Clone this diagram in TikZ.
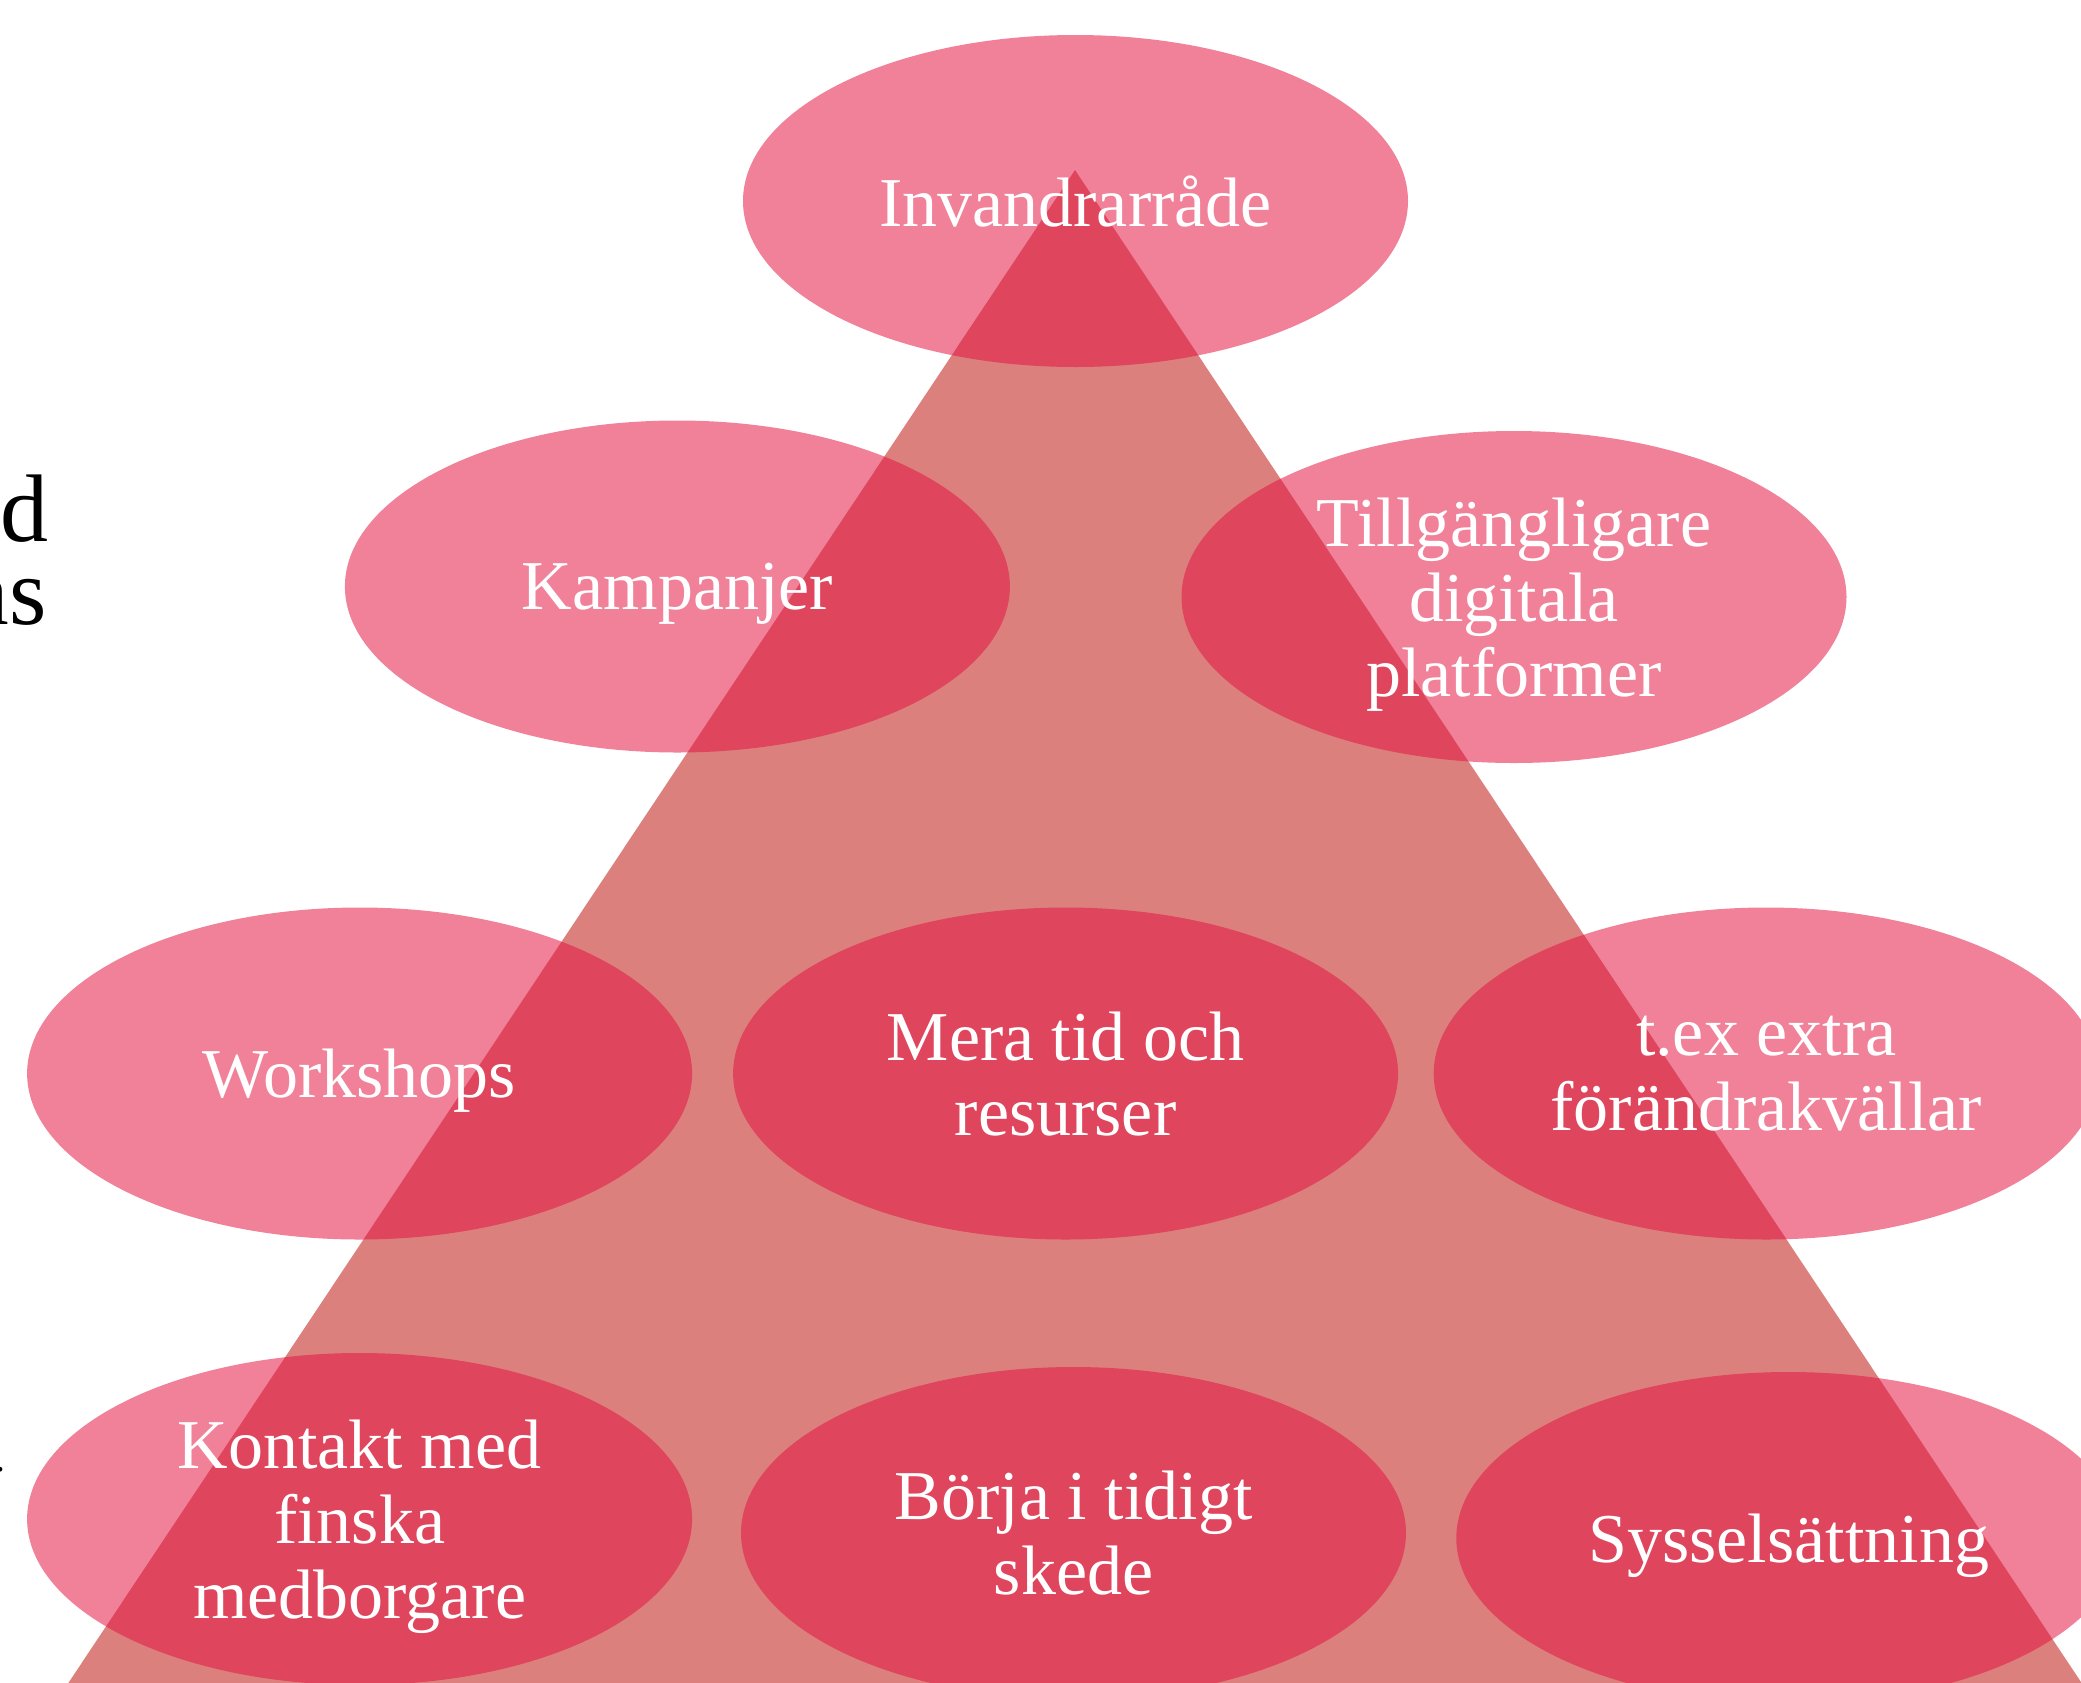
\documentclass[tikz,border=0pt]{standalone}
\usepackage{fontspec}
\setmainfont{Liberation Serif}
\usetikzlibrary{shapes.geometric}
\definecolor{tri}{RGB}{220,128,126}
\definecolor{ell}{RGB}{227,17,63}
\begin{document}
\begin{tikzpicture}[x=1pt,y=-1pt,
  bub/.style={ellipse, fill=ell, fill opacity=0.53, text opacity=1, text=white,
    minimum width=665pt, minimum height=332pt, inner sep=0pt, align=center,
    text depth=0pt, font=\fontsize{70}{75}\selectfont},
  side/.style={anchor=base east, inner sep=0pt, text=black}]
\useasboundingbox (0,0) rectangle (2081,1682);
\clip (0,0) rectangle (2081,1682);
% triangle
\coordinate (apex) at (1075,170);
\coordinate (bl) at (-9.5,1800);
\coordinate (br) at (2159.5,1800);
\fill[tri] (apex) -- (bl) -- (br) -- cycle;
% ellipses
\node[bub] (n1) at (1075.5,201) {Invandrarråde};
\node[bub] (n2) at (677.4,586.5) {Kampanjer};
\node[bub] (n3) at (1514,597) {Tillgängligare\\digitala\\platformer};
\node[bub] (n4) at (359.6,1073.5) {Workshops};
\node[bub] (n5) at (1065.6,1073.5) {Mera tid och\\resurser};
\node[bub] (n6) at (1766.2,1073.5) {t.ex extra\\förändrakvällar};
\node[bub] (n7) at (359.6,1519) {Kontakt med\\finska\\medborgare};
\node[bub] (n8) at (1073.5,1533) {Börja i tidigt\\skede};
\node[bub] (n9) at (1788.8,1538) {Sysselsättning};
% cut-off text at left edge
\node[side, font=\fontsize{96}{96}\selectfont] (tx1) at (49,541) {d};
\node[side, font=\fontsize{96}{96}\selectfont] (tx2) at (47,624) {as};
\node[side, font=\fontsize{40}{40}\selectfont] (tx3) at (6,1471) {.};
\end{tikzpicture}
\end{document}
